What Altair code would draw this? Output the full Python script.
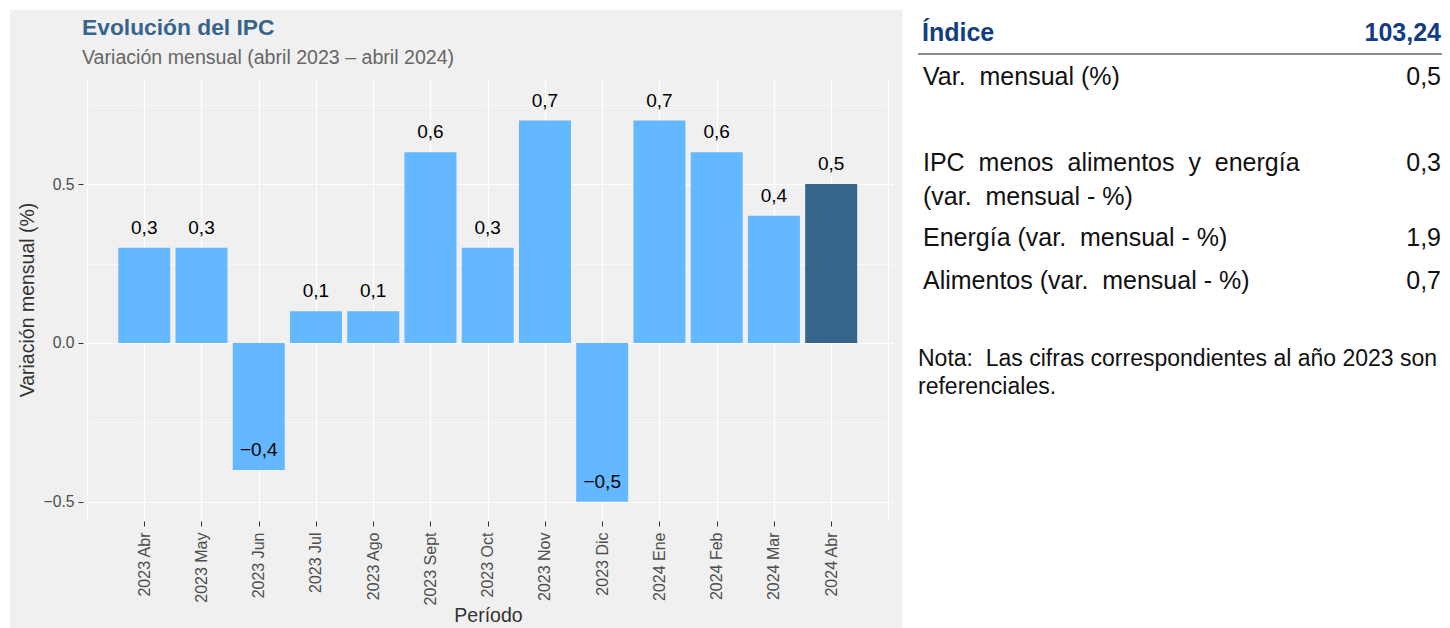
import altair as alt
import pandas as pd

# ---------------- data ----------------
periods = ["2023 Abr", "2023 May", "2023 Jun", "2023 Jul", "2023 Ago", "2023 Sept",
           "2023 Oct", "2023 Nov", "2023 Dic", "2024 Ene", "2024 Feb", "2024 Mar", "2024 Abr"]
values = [0.3, 0.3, -0.4, 0.1, 0.1, 0.6, 0.3, 0.7, -0.5, 0.7, 0.6, 0.4, 0.5]

title_text = "Evolución del IPC"
subtitle_text = "Variación mensual (abril 2023 – abril 2024)"
x_title = "Período"
y_title = "Variación mensual (%)"

index_label = "Índice"
index_value = "103,24"
row_labels = [["Var. mensual (%)"],
              ["IPC menos alimentos y energía", "(var. mensual - %)"],
              ["Energía (var. mensual - %)"],
              ["Alimentos (var. mensual - %)"]]
row_values = ["0,5", "0,3", "1,9", "0,7"]
note_lines = ["Nota: Las cifras correspondientes al año 2023 son", "referenciales."]


def fmt(v):
    return f"{v:.1f}".replace(".", ",").replace("-", "\u2212")


def latex_space(s):
    # wider space after a period, as in the LaTeX table
    return s.replace(". ", ".\u00a0 ")


n = len(periods)
df = pd.DataFrame({
    "idx": list(range(n)),
    "periodo": periods,
    "valor": values,
    "etiqueta": [fmt(v) for v in values],
    "grupo": ["previo"] * (n - 1) + ["actual"],
})

# ---------------- layout / style ----------------
W, H = 810, 443
FONT = "Liberation Sans"
TABLE_FONT = "Liberation Sans"
NAVY = "#123D84"
TFS = 25

xs = alt.Scale(domain=[-1.07, 13.08], nice=False, zero=False, padding=0)
ys = alt.Scale(domain=[-0.5605, 0.834], nice=False, zero=False)

label_arr = "[" + ",".join("'" + p + "'" for p in periods) + "]"
x_is_cat = f"datum.value >= 0 && datum.value <= {n - 1} && datum.value % 1 == 0"

x_axis = alt.Axis(
    values=[i / 2 for i in range(-2, 2 * n + 1)],
    labelExpr=f"{x_is_cat} ? {label_arr}[datum.value] : ''",
    labelAngle=270, labelAlign="right", labelBaseline="middle",
    labelPadding=6, tickSize=5, labelOverlap=False, labelFlush=False,
    labelFontSize=16,
    tickColor={"condition": {"test": x_is_cat, "value": "#333333"}, "value": "transparent"},
    gridWidth={"condition": {"test": "datum.value % 1 == 0", "value": 1.2}, "value": 0.6},
    grid=True, gridColor="white", titlePadding=2,
)

y_major = "abs(datum.value) % 0.5 == 0"
y_axis = alt.Axis(
    values=[-0.75, -0.5, -0.25, 0, 0.25, 0.5, 0.75],
    labelExpr=f"{y_major} ? replace(format(datum.value, '.1f'), '-', '\u2212') : ''",
    labelPadding=4, tickSize=5, labelOverlap=False, labelFlush=False,
    tickColor={"condition": {"test": y_major, "value": "#333333"}, "value": "transparent"},
    gridWidth={"condition": {"test": y_major, "value": 1.2}, "value": 0.6},
    grid=True, gridColor="white", titlePadding=6,
)

base = alt.Chart(df)

bars = base.mark_bar(size=52).encode(
    x=alt.X("idx:Q", scale=xs, axis=x_axis, title=x_title),
    y=alt.Y("valor:Q", scale=ys, axis=y_axis, title=y_title, stack=None),
    y2=alt.datum(0),
    color=alt.Color("grupo:N", scale=alt.Scale(domain=["previo", "actual"],
                                               range=["#63B8FF", "#36648B"]), legend=None),
)

bar_labels = base.mark_text(dy=-14, baseline="alphabetic", align="center",
                            fontSize=19, font=FONT, color="black").encode(
    x=alt.X("idx:Q", scale=xs, title=x_title),
    y=alt.Y("valor:Q", scale=ys, title=y_title),
    text="etiqueta:N",
)


def one(text):
    return alt.Chart(pd.DataFrame({"t": [text]}))


# white areas outside the grey panel
cover_right = one("").mark_rect(color="white").encode(
    x=alt.value(819.5), x2=alt.value(1365), y=alt.value(-75), y2=alt.value(560))
cover_left = one("").mark_rect(color="white").encode(
    x=alt.value(-80), x2=alt.value(-73), y=alt.value(-75), y2=alt.value(560))
cover_top = one("").mark_rect(color="white").encode(
    x=alt.value(-80), x2=alt.value(1365), y=alt.value(-75), y2=alt.value(-68))

title = one(title_text).mark_text(align="left", baseline="alphabetic", fontSize=22.8,
                                  fontWeight="bold", font=FONT, color="#36648B").encode(
    x=alt.value(-1), y=alt.value(-43), text="t:N")
subtitle = one(subtitle_text).mark_text(align="left", baseline="alphabetic", fontSize=19.6,
                                        font=FONT, color="#666666").encode(
    x=alt.value(-1), y=alt.value(-14), text="t:N")

# ---------------- table on the right ----------------
LX, RX = 840, 1358
header_l = one(index_label).mark_text(align="left", baseline="alphabetic", fontSize=TFS,
                                      fontWeight="bold", font=TABLE_FONT, color=NAVY).encode(
    x=alt.value(LX - 1), y=alt.value(-37), text="t:N")
header_r = one(index_value).mark_text(align="right", baseline="alphabetic", fontSize=TFS,
                                      fontWeight="bold", font=TABLE_FONT, color=NAVY).encode(
    x=alt.value(RX), y=alt.value(-37), text="t:N")
header_rule = one("").mark_rule(color="#666666", strokeWidth=1.3).encode(
    x=alt.value(835), x2=alt.value(1360), y=alt.value(-24))

row_y = [7, 93, 168, 211]
table_layers = []
for i, (lab, val) in enumerate(zip(row_labels, row_values)):
    lines = [latex_space(s) for s in lab]
    if len(lines) > 1:
        lines[0] = lines[0].replace(" ", "\u00a0 ")
    table_layers.append(
        alt.Chart(pd.DataFrame({"t": [lines]})).mark_text(
            align="left", baseline="alphabetic", fontSize=TFS, lineHeight=34,
            font=TABLE_FONT, color="#111111").encode(
            x=alt.value(LX), y=alt.value(row_y[i]), text="t:N"))
    table_layers.append(
        one(val).mark_text(align="right", baseline="alphabetic", fontSize=TFS,
                           font=TABLE_FONT, color="#111111").encode(
            x=alt.value(RX), y=alt.value(row_y[i]), text="t:N"))

note = alt.Chart(pd.DataFrame({"t": [[latex_space(s.replace(": ", ":\u00a0 ")) for s in note_lines]]})).mark_text(
    align="left", baseline="alphabetic", fontSize=23, lineHeight=28,
    font=TABLE_FONT, color="#111111").encode(
    x=alt.value(835), y=alt.value(288), text="t:N")

chart = alt.layer(
    cover_right, cover_left, cover_top, bars, bar_labels, title, subtitle,
    header_l, header_r, header_rule, *table_layers, note,
).properties(
    width=W, height=H,
    autosize=alt.AutoSizeParams(type="none"),
    padding={"left": 75, "top": 70, "right": 549, "bottom": 107},
    background="#F0F0F0",
).configure_view(
    stroke=None,
).configure_axis(
    labelFont=FONT, titleFont=FONT, domain=False,
    labelColor="#4D4D4D", labelFontSize=15.7,
    titleFontSize=19.5, titleColor="#333333", titleFontWeight="normal",
)

chart.save("out.html", embed_options={"renderer": "svg", "actions": False})
